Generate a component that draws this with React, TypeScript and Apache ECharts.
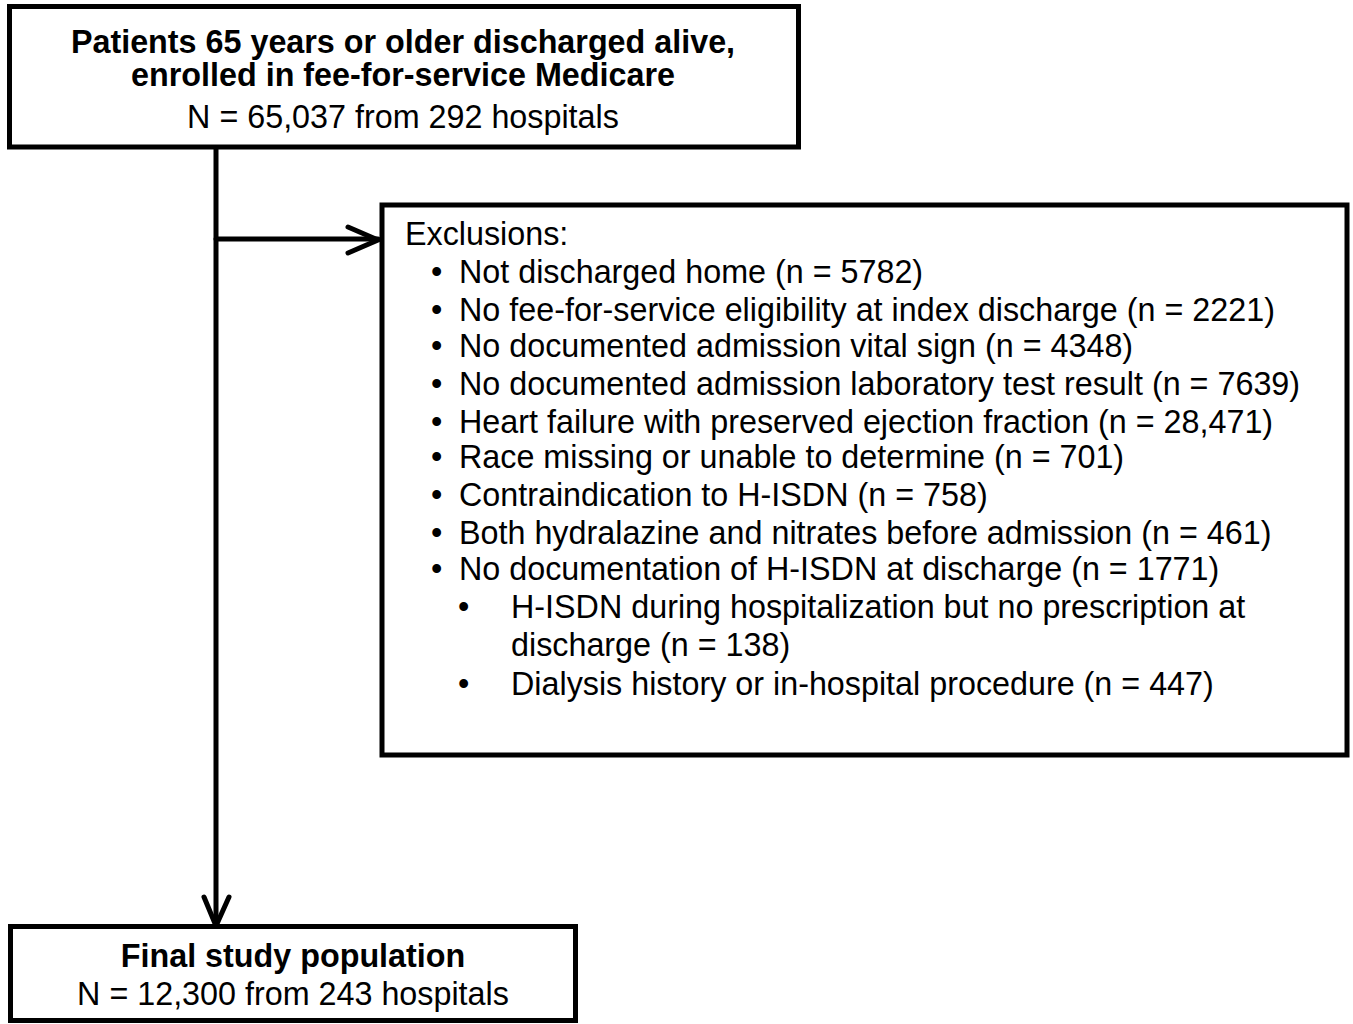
import React, { useEffect, useRef } from "react";
import * as echarts from "echarts";

const topTitle = ["Patients 65 years or older discharged alive,", "enrolled in fee-for-service Medicare"];
const topCount = "N = 65,037 from 292 hospitals";
const exclusionHeader = "Exclusions:";
const exclusionLabels = [
  "Not discharged home",
  "No fee-for-service eligibility at index discharge",
  "No documented admission vital sign",
  "No documented admission laboratory test result",
  "Heart failure with preserved ejection fraction",
  "Race missing or unable to determine",
  "Contraindication to H-ISDN",
  "Both hydralazine and nitrates before admission",
  "No documentation of H-ISDN at discharge",
];
const exclusionCounts = ["5782", "2221", "4348", "7639", "28,471", "701", "758", "461", "1771"];
const subLabels = [
  ["H-ISDN during hospitalization but no prescription at", "discharge"],
  ["Dialysis history or in-hospital procedure"],
];
const subCounts = ["138", "447"];
const finalTitle = "Final study population";
const finalCount = "N = 12,300 from 243 hospitals";

const FONT = "Liberation Sans, Arial, sans-serif";

export default function App() {
  const ref = useRef<HTMLDivElement>(null);
  useEffect(() => {
    document.body.style.margin = "0";
    const chart = echarts.init(ref.current!, null, { renderer: "svg" });
    const lw = 5;
    const stroke = "#000";
    const els: any[] = [];
    const txt = (text: string, x: number, y: number, bold: boolean, align = "left") => ({
      type: "text",
      style: {
        text,
        x,
        y,
        fill: "#000",
        font: `${bold ? "bold " : ""}32.3px ${FONT}`,
        textAlign: align,
        textVerticalAlign: "middle",
        align,
        verticalAlign: "middle",
      },
    });
    const rect = (x: number, y: number, w: number, h: number) => ({
      type: "rect",
      shape: { x, y, width: w, height: h },
      style: { fill: "#fff", stroke, lineWidth: lw },
    });
    const line = (x1: number, y1: number, x2: number, y2: number) => ({
      type: "line",
      shape: { x1, y1, x2, y2 },
      style: { stroke, lineWidth: lw, lineCap: "round" },
    });
    // connectors
    els.push(line(216, 149, 216, 925));
    els.push(line(216, 239, 378, 239));
    els.push({ type: "polyline", shape: { points: [[348, 227], [378, 240], [348, 253]] }, style: { stroke, lineWidth: lw, fill: null, lineCap: "round", lineJoin: "miter" } });
    els.push({ type: "polyline", shape: { points: [[204, 897], [216, 926], [229, 897]] }, style: { stroke, lineWidth: lw, fill: null, lineCap: "round", lineJoin: "miter" } });
    // boxes
    els.push(rect(9.5, 6.5, 789, 140.5));
    els.push(rect(382, 205, 965, 550));
    els.push(rect(10.5, 926.5, 565, 94));
    // top text
    els.push(txt(topTitle[0], 403, 42, true, "center"));
    els.push(txt(topTitle[1], 403, 75, true, "center"));
    els.push(txt(topCount, 403, 117, false, "center"));
    // exclusions
    els.push(txt(exclusionHeader, 405, 234, false));
    const ys = [272, 310, 346, 384, 422, 457, 495, 533, 569];
    exclusionLabels.forEach((l, i) => {
      els.push(txt("•", 431, ys[i], false));
      els.push(txt(`${l} (n = ${exclusionCounts[i]})`, 459, ys[i], false));
    });
    const subYs = [[607, 645], [684]];
    subLabels.forEach((lines, i) => {
      els.push(txt("•", 458, subYs[i][0], false));
      lines.forEach((l, j) => {
        const last = j === lines.length - 1;
        els.push(txt(last ? `${l} (n = ${subCounts[i]})` : l, 511, subYs[i][j], false));
      });
    });
    // final
    els.push(txt(finalTitle, 293, 956, true, "center"));
    els.push(txt(finalCount, 293, 994, false, "center"));
    chart.setOption({ animation: false, graphic: { elements: els } });
    return () => chart.dispose();
  }, []);
  return <div ref={ref} style={{ width: 1353, height: 1024, background: "#fff" }} />;
}
